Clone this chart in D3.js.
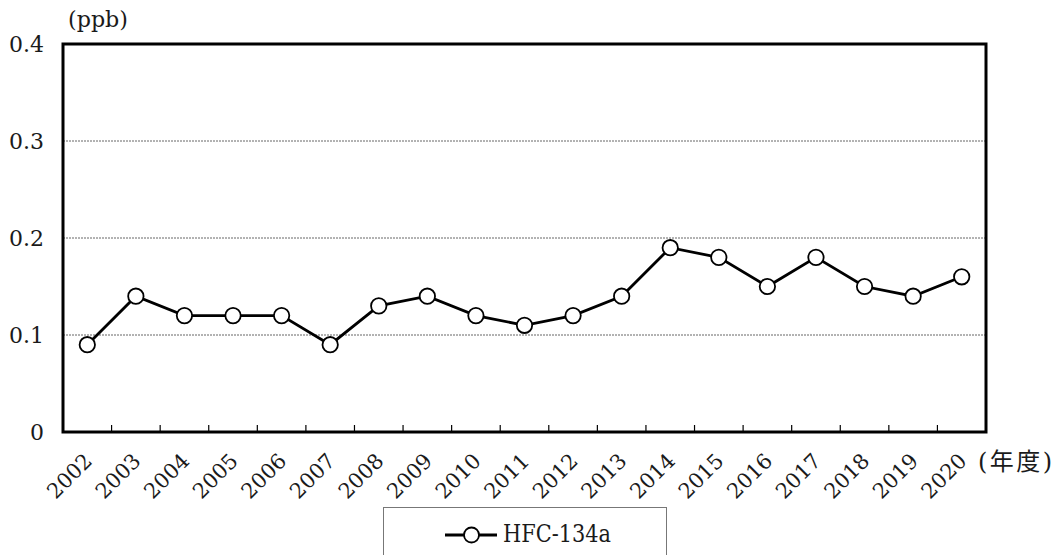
<!DOCTYPE html>
<html><head><meta charset="utf-8">
<script src="https://cdn.jsdelivr.net/npm/d3@7"></script>
<style>
body{margin:0;background:#fff;}
svg text{font-family:"DejaVu Serif","Noto Sans CJK JP",serif;fill:#1a1a1a;}
</style></head>
<body><svg id="c" width="1058" height="555"></svg>
<script>
const years = ["2002","2003","2004","2005","2006","2007","2008","2009","2010","2011","2012","2013","2014","2015","2016","2017","2018","2019","2020"];
const hfc134a = [0.09,0.14,0.12,0.12,0.12,0.09,0.13,0.14,0.12,0.11,0.12,0.14,0.19,0.18,0.15,0.18,0.15,0.14,0.16];
const yTicks = [0,0.1,0.2,0.3,0.4];
const yTickLabels = ["0","0.1","0.2","0.3","0.4"];
const seriesName = "HFC-134a";

const svg = d3.select("#c");
const L=63, R=986, T=44, B=432;
const x = d3.scaleBand().domain(years).range([L,R]);
const y = d3.scaleLinear().domain([0,0.4]).range([B,T]);

svg.append("g").selectAll("line").data(yTicks.filter(v=>v>0&&v<0.4)).join("line")
  .attr("x1",L).attr("x2",R).attr("y1",d=>y(d)).attr("y2",d=>y(d))
  .attr("stroke","#666").attr("stroke-width",1).attr("stroke-dasharray","2,1");

svg.append("g").selectAll("line").data(years.slice(1)).join("line")
  .attr("x1",d=>x(d)).attr("x2",d=>x(d)).attr("y1",B).attr("y2",B-7)
  .attr("stroke","#000").attr("stroke-width",1.2);

svg.append("rect").attr("x",L).attr("y",T).attr("width",R-L).attr("height",B-T)
  .attr("fill","none").attr("stroke","#000").attr("stroke-width",3);

svg.append("g").selectAll("text").data(yTicks).join("text")
  .attr("x",44).attr("y",d=>y(d)).attr("dy","0.35em").attr("text-anchor","end")
  .style("font-size","22px").text((d,i)=>yTickLabels[i]);

svg.append("text").attr("x",68).attr("y",27).style("font-size","22px")
  .attr("textLength",60).attr("lengthAdjust","spacingAndGlyphs").text("(ppb)");

svg.append("g").selectAll("text").data(years).join("text")
  .attr("transform",d=>`translate(${x(d)+x.bandwidth()/2+1},${457}) rotate(-45)`)
  .attr("text-anchor","end").attr("dy","0.35em")
  .style("font-size","21px").text(d=>d);

svg.append("text").attr("x",978).attr("y",470).style("font-size","24px")
  .attr("textLength",74).attr("lengthAdjust","spacing").text("(年度)");

const line = d3.line().x((d,i)=>x(years[i])+x.bandwidth()/2).y(d=>y(d));
svg.append("path").datum(hfc134a).attr("d",line).attr("fill","none")
  .attr("stroke","#000").attr("stroke-width",2.8);
svg.append("g").selectAll("circle").data(hfc134a).join("circle")
  .attr("cx",(d,i)=>x(years[i])+x.bandwidth()/2).attr("cy",d=>y(d)).attr("r",7.7)
  .attr("fill","#fff").attr("stroke","#000").attr("stroke-width",1.8);

svg.append("rect").attr("x",383.5).attr("y",507.5).attr("width",283).attr("height",60)
  .attr("fill","#fff").attr("stroke","#777").attr("stroke-width",1);
svg.append("line").attr("x1",445).attr("x2",497).attr("y1",535).attr("y2",535)
  .attr("stroke","#000").attr("stroke-width",2.8);
svg.append("circle").attr("cx",471.5).attr("cy",535).attr("r",7.5)
  .attr("fill","#fff").attr("stroke","#000").attr("stroke-width",1.8);
svg.append("text").attr("x",503).attr("y",542).style("font-size","25px")
  .attr("textLength",108).attr("lengthAdjust","spacingAndGlyphs").text(seriesName);
</script></body></html>
